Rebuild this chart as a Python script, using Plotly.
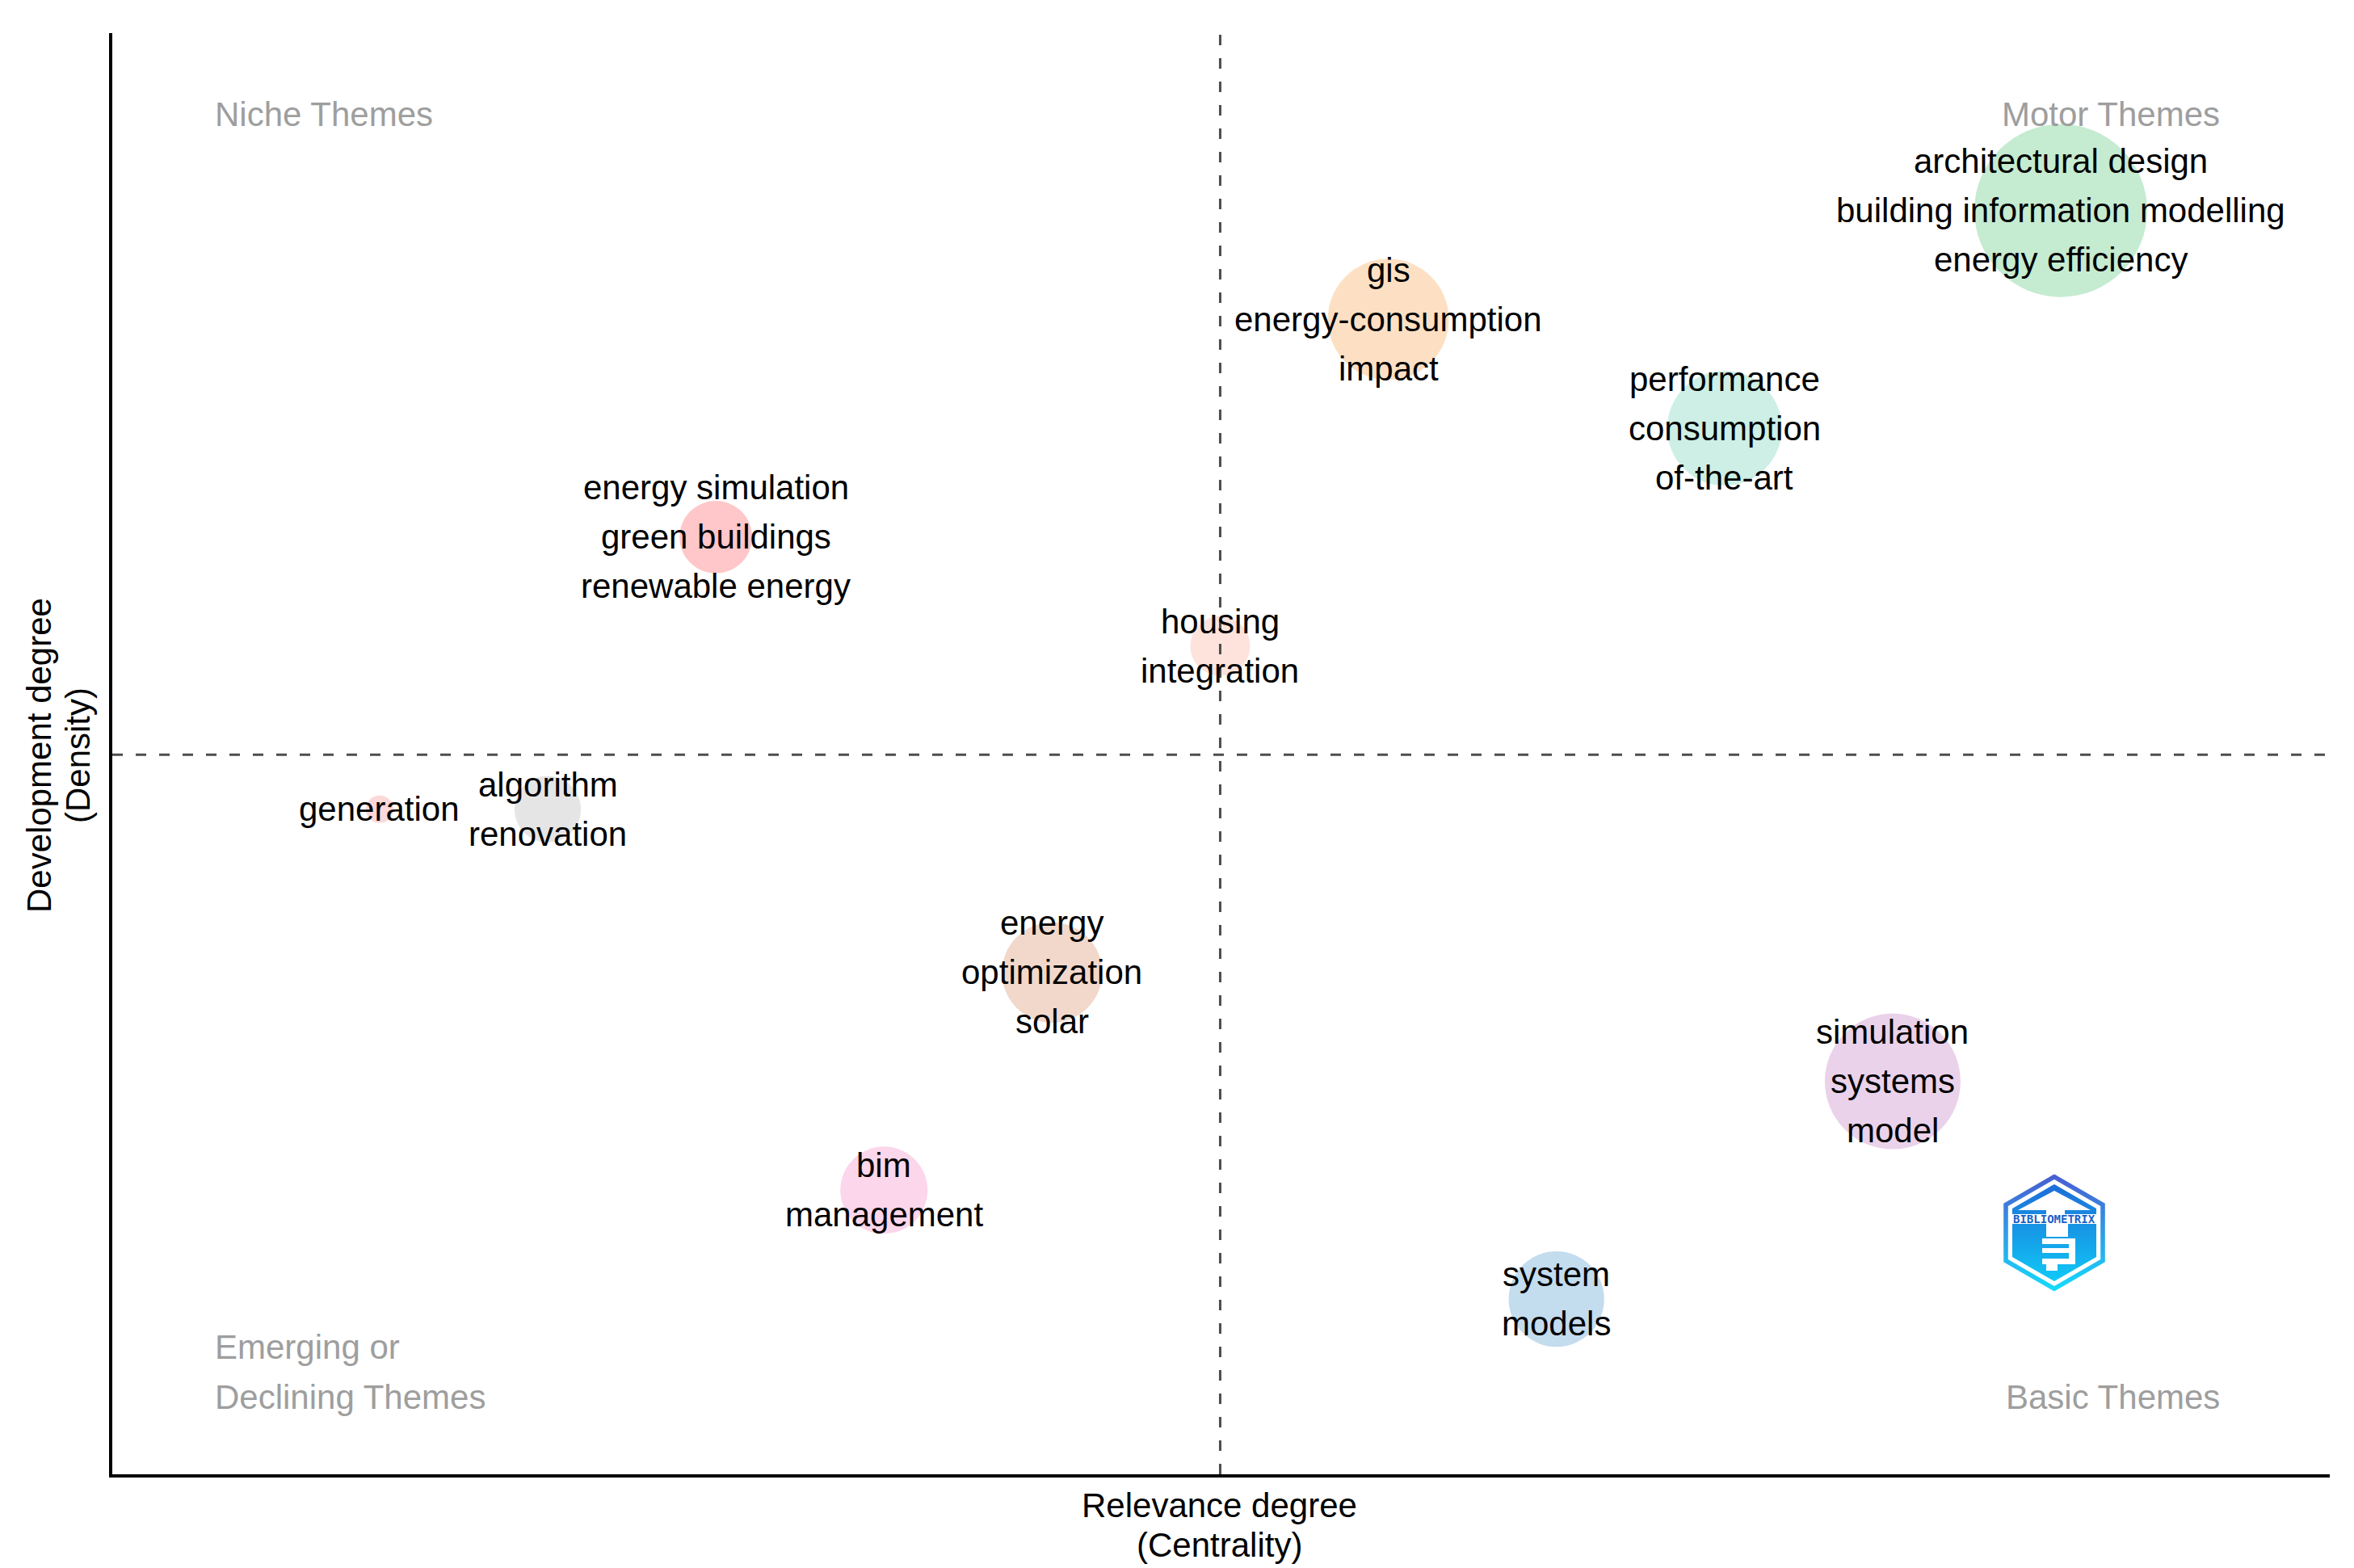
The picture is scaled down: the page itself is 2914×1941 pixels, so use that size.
import base64
import numpy as np
import plotly.graph_objects as go

# thematic map clusters (rank centrality vs rank density)
cluster_labels = [
    ["architectural design", "building information modelling", "energy efficiency"],
    ["gis", "energy-consumption", "impact"],
    ["performance", "consumption", "of-the-art"],
    ["energy simulation", "green buildings", "renewable energy"],
    ["housing", "integration"],
    ["generation"],
    ["algorithm", "renovation"],
    ["energy", "optimization", "solar"],
    ["bim", "management"],
    ["simulation", "systems", "model"],
    ["system", "models"],
]
centrality_rank = [11, 7, 9, 3, 6, 1, 2, 5, 4, 10, 8]
density_rank = [11, 10, 9, 8, 7, 5.5, 5.5, 4, 2, 3, 1]
cluster_freq = [318, 156, 140, 56, 38, 8, 47, 107, 81, 196, 97]
cluster_colors = ["#c5ebd1", "#fde0c3", "#cdefe5", "#ffc7c9", "#fde3dc", "#fcd8d8",
                  "#e5e5e5", "#f1d8cb", "#fcd6ea", "#ead2ea", "#c3dcee"]

quadrant_names = {
    "niche": ["Niche Themes"],
    "motor": ["Motor Themes"],
    "emerging": ["Emerging or", "Declining Themes"],
    "basic": ["Basic Themes"],
}
x_title = ["Relevance degree", "(Centrality)"]
y_title = ["Development degree", "(Density)"]

# page geometry
W, H = 2914, 1941
ML, MR, MT, MB = 131, 38, 33, 124
PW, PH = W - ML - MR, H - MT - MB
FONT = "Liberation Sans, Arial, sans-serif"
FS = 42
LINE = 61


def to_paper(px, py):
    return (px - ML) / PW, (H - MB - py) / PH


fig = go.Figure()

fig.add_trace(go.Scatter(
    x=centrality_rank, y=density_rank, mode="markers",
    marker=dict(size=cluster_freq, sizemode="area", sizeref=1 / 72,
                color=cluster_colors, line=dict(width=0), opacity=1),
    text=[" / ".join(l) for l in cluster_labels],
    hoverinfo="text", showlegend=False,
))

annotations = []

# cluster labels, one line each, centred on the bubble
for labels, cx, cy in zip(cluster_labels, centrality_rank, density_rank):
    n = len(labels)
    for j, word in enumerate(labels):
        annotations.append(dict(
            x=cx, y=cy, xref="x", yref="y", text=word, showarrow=False,
            xanchor="center", yanchor="middle",
            yshift=((n - 1) / 2 - j) * LINE,
            font=dict(family=FONT, size=FS, color="black"),
        ))

# quadrant names
grey = "#9e9e9e"
def quad(lines, px, py, anchor):
    for j, t in enumerate(lines):
        xp, yp = to_paper(px, py + j * 62)
        annotations.append(dict(
            x=xp, y=yp, xref="paper", yref="paper", text=t, showarrow=False,
            xanchor=anchor, yanchor="middle",
            font=dict(family=FONT, size=FS, color=grey),
        ))

quad(quadrant_names["niche"], 256, 134, "left")
quad(quadrant_names["motor"], 2742, 134, "right")
quad(quadrant_names["emerging"], 256, 1659, "left")
quad(quadrant_names["basic"], 2742, 1721, "right")

# axis titles
for j, t in enumerate(x_title):
    xp, yp = to_paper(1501, 1855 + j * 49)
    annotations.append(dict(
        x=xp, y=yp, xref="paper", yref="paper", text=t, showarrow=False,
        xanchor="center", yanchor="middle",
        font=dict(family=FONT, size=FS, color="black"),
    ))
for j, t in enumerate(y_title):
    xp, yp = to_paper(40 + j * 48, 927)
    annotations.append(dict(
        x=xp, y=yp, xref="paper", yref="paper", text=t, showarrow=False,
        textangle=-90, xanchor="center", yanchor="middle",
        font=dict(family=FONT, size=FS, color="black"),
    ))

# mean lines
fig.add_vline(x=np.mean(centrality_rank), line=dict(color="#4d4d4d", width=3, dash="13px,16px"),
              layer="above")
fig.add_hline(y=np.mean(density_rank), line=dict(color="#4d4d4d", width=3, dash="13px,16px"),
              layer="above")


# bibliometrix logo (decoration), drawn as a small inline svg
def hex_pts(cx, cy, r):
    pts = []
    for k in range(6):
        a = np.radians(90 + 60 * k)
        pts.append(f"{cx + r * np.cos(a):.1f},{cy - r * np.sin(a):.1f}")
    return " ".join(pts)


logo_svg = f"""<svg xmlns="http://www.w3.org/2000/svg" width="126" height="146" viewBox="0 0 126 146">
<defs>
<linearGradient id="g1" x1="0" y1="0" x2="0" y2="1">
<stop offset="0" stop-color="#4a5cd0"/><stop offset="1" stop-color="#16dcfb"/></linearGradient>
<linearGradient id="g2" x1="0" y1="0" x2="0" y2="1">
<stop offset="0" stop-color="#1d6cd8"/><stop offset="1" stop-color="#10c9f6"/></linearGradient>
</defs>
<polygon points="{hex_pts(63, 73, 72.5)}" fill="url(#g1)"/>
<polygon points="{hex_pts(63, 73, 66)}" fill="white"/>
<polygon points="{hex_pts(63, 73, 60)}" fill="url(#g2)"/>
<polygon points="63,21 18,45 108,45" fill="white"/>
<rect x="57" y="30" width="14" height="8" fill="white"/>
<rect x="53" y="36" width="23" height="14" fill="white"/>
<rect x="8" y="50" width="110" height="12" fill="white"/>
<rect x="53" y="62" width="27" height="16" fill="white"/>
<rect x="48" y="80" width="41" height="7" fill="white"/>
<rect x="48" y="92" width="41" height="6" fill="white"/>
<rect x="48" y="105" width="41" height="7" fill="white"/>
<rect x="81" y="80" width="8" height="32" fill="white"/>
<rect x="53" y="112" width="14" height="8" fill="white"/>
</svg>"""
logo_src = "data:image/svg+xml;base64," + base64.b64encode(logo_svg.encode()).decode()

lx0, ly0 = 2472, 1445
xp, yp = to_paper(lx0, ly0)
fig.add_layout_image(dict(source=logo_src, xref="paper", yref="paper", x=xp, y=yp,
                          sizex=126 / PW, sizey=146 / PH, xanchor="left", yanchor="top",
                          sizing="stretch", layer="above"))
xp, yp = to_paper(lx0 + 63, ly0 + 56)
annotations.append(dict(x=xp, y=yp, xref="paper", yref="paper", text="<b>BIBLIOMETRIX</b>",
                        showarrow=False, xanchor="center", yanchor="middle",
                        font=dict(family="DejaVu Sans Mono, monospace", size=14, color="#1a5fc8")))

fig.update_layout(
    width=W, height=H,
    margin=dict(l=ML, r=MR, t=MT, b=MB, pad=0),
    paper_bgcolor="white", plot_bgcolor="white",
    annotations=annotations,
    xaxis=dict(range=[-0.59, 12.6], showline=True, linecolor="black", linewidth=4,
               showgrid=False, zeroline=False, showticklabels=False, ticks=""),
    yaxis=dict(range=[-0.61, 12.63], showline=True, linecolor="black", linewidth=4,
               showgrid=False, zeroline=False, showticklabels=False, ticks=""),
    showlegend=False,
)

fig.write_html("out.html")
